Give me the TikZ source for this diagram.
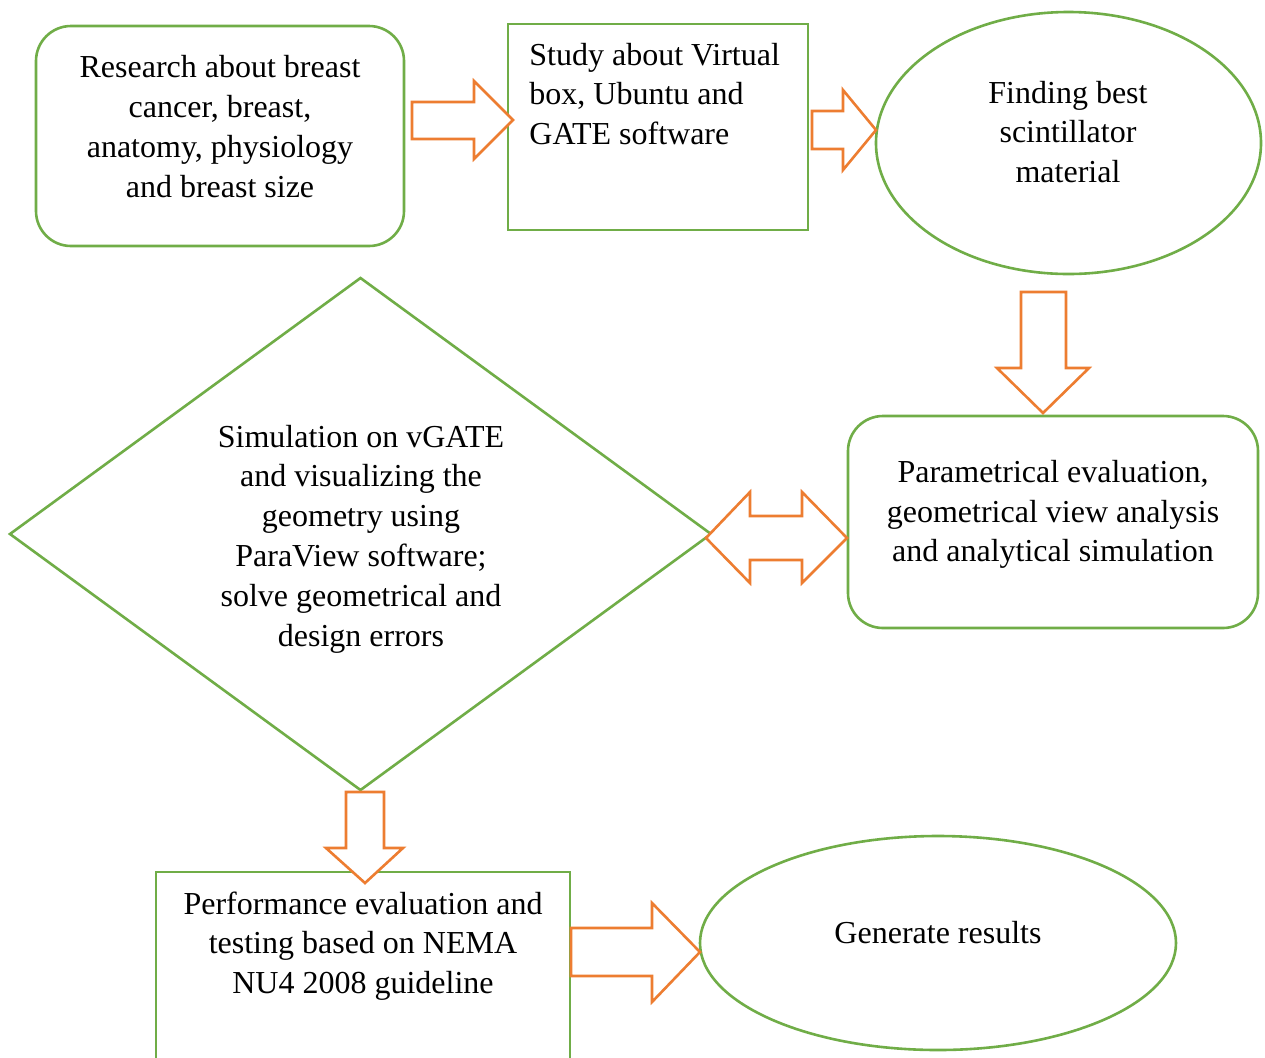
\documentclass[tikz,border=0pt]{standalone}
\usepackage{fontspec}
\setmainfont{Liberation Serif}
\usetikzlibrary{shapes.geometric}
\definecolor{bgreen}{HTML}{70AD47}
\definecolor{borange}{HTML}{ED7D31}
\tikzset{
  shapebox/.style={draw=bgreen, line width=1.3pt, inner sep=0pt, outer sep=0pt, fill=white},
  blockarrow/.style={draw=borange, line width=1.3pt, fill=white, line join=miter},
  txt/.style={font=\fontsize{16pt}{19.9pt}\selectfont, align=center, inner sep=0pt},
}
\begin{document}
\begin{tikzpicture}[x=0.5pt, y=-0.5pt]
\clip (0,0) rectangle (1265,1057);
\fill[white] (0,0) rectangle (1265,1057);
% shapes
\node[shapebox, rounded corners=17.5pt, minimum width=184pt, minimum height=110pt] (b1) at (220,136) {};
\node[shapebox, minimum width=150pt, minimum height=103pt] (b2) at (658,127) {};
\node[shapebox, ellipse, minimum width=192.5pt, minimum height=131pt] (e1) at (1068.5,143) {};
\node[shapebox, rounded corners=17.5pt, minimum width=205pt, minimum height=106pt] (b3) at (1053,522) {};
\node[shapebox, diamond, minimum width=350.5pt, minimum height=256pt] (d1) at (360.5,534) {};
\node[shapebox, minimum width=207pt, minimum height=100pt] (b4) at (363,972) {};
\node[shapebox, ellipse, minimum width=238pt, minimum height=107pt] (e2) at (938,943) {};
% texts
\node[txt] (t1) at (220,126.5) {Research about breast\\cancer, breast,\\anatomy, physiology\\and breast size};
\node[txt, align=left, anchor=west] (t2) at (529,94) {Study about Virtual\\box, Ubuntu and\\GATE software};
\node[txt] (t3) at (1068,132) {Finding best\\scintillator\\material};
\node[txt] (t4) at (1053,514.5) {Parametrical evaluation,\\geometrical view analysis\\and analytical simulation};
\node[txt] (t5) at (361,539) {Simulation on vGATE\\and visualizing the\\geometry using\\ParaView software;\\solve geometrical and\\design errors};
\node[txt] (t6) at (363,946) {Performance evaluation and\\testing based on NEMA\\NU4 2008 guideline};
\node[txt] (t7) at (938,933) {Generate results};
% block arrows
\draw[blockarrow] (412,102) -- (474,102) -- (474,81) -- (513,120) -- (474,159) -- (474,139) -- (412,139) -- cycle;
\draw[blockarrow] (812,111) -- (843,111) -- (843,90) -- (876,130) -- (843,170) -- (843,149) -- (812,149) -- cycle;
\draw[blockarrow] (1021,292) -- (1066,292) -- (1066,368) -- (1089,368) -- (1043,413) -- (997,368) -- (1021,368) -- cycle;
\draw[blockarrow] (706,538) -- (750,492) -- (750,516) -- (802,516) -- (802,492) -- (847,538) -- (802,583) -- (802,560) -- (750,560) -- (750,583) -- cycle;
\draw[blockarrow] (346,792) -- (384,792) -- (384,848) -- (403,848) -- (365,883) -- (326,848) -- (346,848) -- cycle;
\draw[blockarrow] (571,928) -- (652,928) -- (652,903) -- (700,952) -- (652,1002) -- (652,976) -- (571,976) -- cycle;
\end{tikzpicture}
\end{document}
